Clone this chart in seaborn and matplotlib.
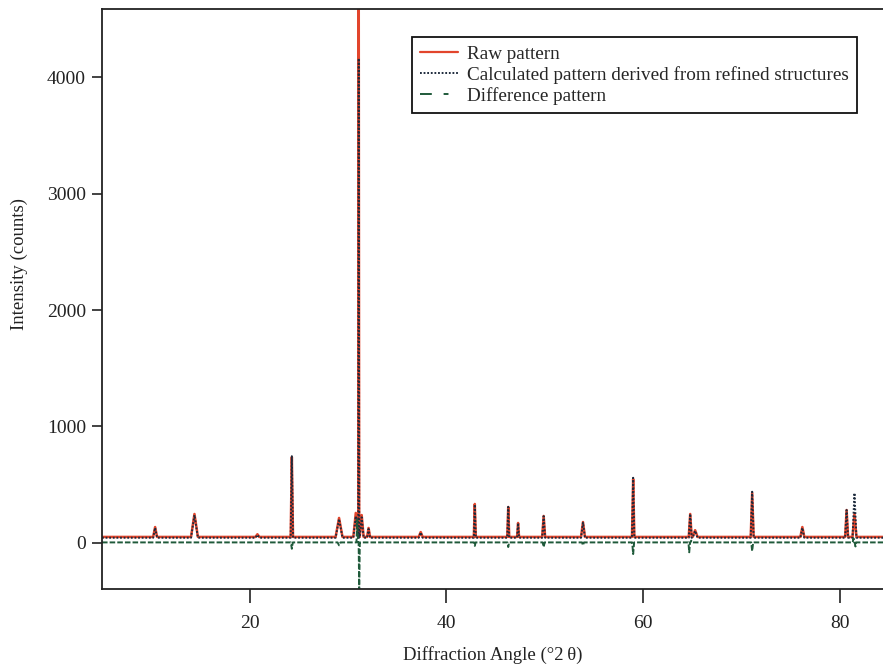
import numpy as np
import pandas as pd
import matplotlib
matplotlib.use("Agg")
import matplotlib.pyplot as plt
from matplotlib.lines import Line2D
import seaborn as sns

# ---------------- data ----------------
x_range = [5.0, 84.4]
baseline_raw = 52
baseline_calc = 45
baseline_diff = 5

# diffraction peaks (degrees 2-theta), apex intensities and half-widths
peak_pos = [10.4, 14.4, 20.8, 24.3, 29.1, 30.8, 31.1, 31.4, 32.1, 37.4, 42.9,
            46.3, 47.3, 49.9, 53.9, 59.0, 64.8, 65.3, 71.1, 76.2, 80.7, 81.5]
raw_height = [137, 249, 75, 738, 215, 258, 4900, 240, 129, 94, 335,
              309, 172, 232, 180, 549, 249, 110, 429, 137, 283, 250]
calc_height = [130, 240, 70, 745, 205, 230, 4160, 220, 120, 90, 330,
               310, 170, 230, 175, 560, 250, 105, 440, 130, 283, 429]
peak_halfwidth = [0.2, 0.35, 0.2, 0.12, 0.35, 0.25, 0.05, 0.2, 0.15, 0.2, 0.1,
                  0.1, 0.1, 0.15, 0.2, 0.12, 0.15, 0.25, 0.15, 0.2, 0.15, 0.2]

# difference-pattern excursions
diff_pos = [24.3, 29.1, 30.95, 31.15, 42.9, 46.3, 49.9, 53.9, 59.0, 64.7, 64.9,
            71.1, 81.4, 81.6]
diff_value = [-50, -20, 200, -400, -25, -35, -35, -20, -95, -80, 20,
              -70, 40, -30]
diff_halfwidth = [0.1, 0.15, 0.08, 0.06, 0.08, 0.08, 0.1, 0.1, 0.1, 0.08, 0.08,
                  0.1, 0.08, 0.08]

legend_labels = ["Raw pattern",
                 "Calculated pattern derived from refined structures",
                 "Difference pattern"]
x_ticks = [20, 40, 60, 80]
y_ticks = [0, 1000, 2000, 3000, 4000]


def vertices(pos, height, halfw, base):
    xs, ys = [x_range[0]], [base]
    for p, h, w in zip(pos, height, halfw):
        xs += [p - w, p, p + w]
        ys += [base, h, base]
    xs.append(x_range[1] + 1)
    ys.append(base)
    return pd.DataFrame({"angle": xs, "intensity": ys})


raw_df = vertices(peak_pos, raw_height, peak_halfwidth, baseline_raw)
calc_df = vertices(peak_pos, calc_height, peak_halfwidth, baseline_calc)
diff_df = vertices(diff_pos, diff_value, diff_halfwidth, baseline_diff)

# ---------------- styling ----------------
sns.set_theme(style="white")
plt.rcParams["font.family"] = ["Liberation Serif", "DejaVu Serif"]
plt.rcParams["lines.scale_dashes"] = False

RED, NAVY, GREEN, INK = "#e2452c", "#1d2a3c", "#1f5a3a", "#222222"
calc_style = (0, (1.3, 1.3))

fig = plt.figure(figsize=(8.83, 6.66), dpi=100)
ax = fig.add_axes([102 / 883, 77 / 666, 781 / 883, 580 / 666])

sns.lineplot(data=raw_df, x="angle", y="intensity", estimator=None, sort=False,
             ax=ax, color=RED, linewidth=1.8)
sns.lineplot(data=calc_df, x="angle", y="intensity", estimator=None, sort=False,
             ax=ax, color=NAVY, linewidth=1.4, linestyle=calc_style)
sns.lineplot(data=diff_df, x="angle", y="intensity", estimator=None, sort=False,
             ax=ax, color=GREEN, linewidth=1.4, linestyle=(0, (4, 1.5)))

ax.set_xlim(x_range)
ax.set_ylim(-395, 4584)
ax.set_xticks(x_ticks)
ax.set_yticks(y_ticks)
ax.tick_params(direction="out", width=1.2, colors=INK, labelsize=14,
               bottom=True, left=True)
ax.tick_params(axis="x", length=10, pad=9)
ax.tick_params(axis="y", length=7.5, pad=4)
for s in ["left", "bottom", "top"]:
    ax.spines[s].set_visible(True)
    ax.spines[s].set_color(INK)
    ax.spines[s].set_linewidth(1.3)
ax.spines["right"].set_visible(False)

ax.set_xlabel("Diffraction Angle (°2\u2009θ)", fontsize=13.5, color=INK)
ax.set_ylabel("Intensity (counts)", fontsize=13.5, color=INK)
ax.yaxis.set_label_coords(-0.095, 0.56)
ax.xaxis.set_label_coords(0.5, -0.098)

handles = [
    Line2D([], [], color=RED, linewidth=1.6),
    Line2D([], [], color=NAVY, linewidth=1.4, linestyle=calc_style),
    Line2D([], [], color=GREEN, linewidth=1.4, linestyle=(0, (8.5, 8.5, 3.5, 8.5))),
]
leg = ax.legend(handles, legend_labels, loc="upper left",
                bbox_to_anchor=(0.397, 0.951), fontsize=13.8,
                frameon=True, fancybox=False, framealpha=1, edgecolor="#111111",
                handlelength=2.0, handletextpad=0.43, labelspacing=0.16,
                borderpad=0.42, borderaxespad=0)
leg.get_frame().set_linewidth(1.3)

fig.savefig("out.png", dpi=100, facecolor="white")
